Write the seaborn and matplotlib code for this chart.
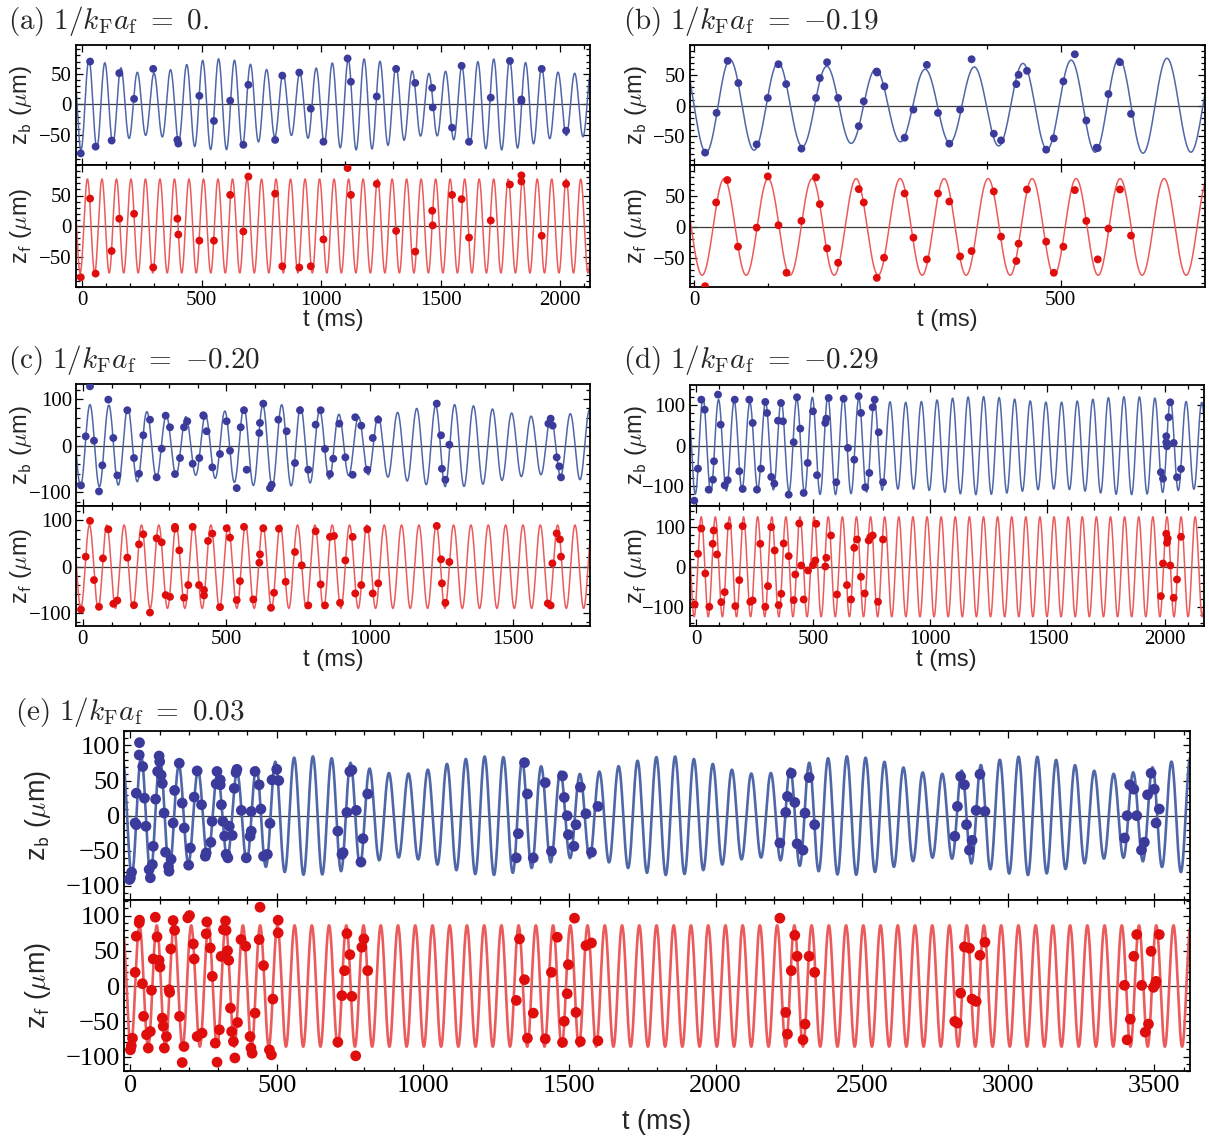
import numpy as np
import pandas as pd
import seaborn as sns
import matplotlib
matplotlib.use("Agg")
import matplotlib.pyplot as plt
from matplotlib.ticker import MultipleLocator, FixedLocator

# ---------------- data (t in ms, z in micrometres) ----------------
TA = [-5, 34, 57, 124, 156, 218, 298, 399, 403, 491, 552, 620, 675, 696, 808, 838, 909, 957, 1010,
      1111, 1125, 1233, 1314, 1394, 1465, 1467, 1548, 1588, 1619, 1710, 1790, 1838, 1838, 1923, 2025]
ZA_B = [-80, 70, -69, -59, 51, 9, 58, -58, -64, 14, -27, 6, -66, 32, -58, 47, 52, -7, -61,
        75, 37, 13, 58, 35, 27, -5, -38, 63, -61, 11, 71, 8, 5, 58, -43]
ZA_F = [-84, 45, -78, -41, 12, 20, -68, 12, -14, -24, -24, 51, -9, 81, 53, -66, -68, -66, -22,
        95, 51, 69, -8, -42, 25, 1, 51, 44, -19, 9, 68, 83, 73, -16, 69]

TB_B = [14.6, 30.3, 45.4, 60, 85, 100.2, 114.8, 125.3, 146.1, 166, 171.2, 181.1, 196.2, 224.4, 231.2,
        249, 249.5, 259.4, 287, 299, 317.3, 332.5, 348, 362.7, 378.4, 408.7, 418.6, 439.5, 442.6, 454,
        480.2, 490.6, 503.7, 519.3, 535, 549, 550.6, 565.2, 580.9, 596]
ZB_B = [-77.6, -12, 73.8, 37.2, -64, 12.6, 68.3, 35.5, -71, 12.6, 45.4, 71.6, 12.6, -33.9, 7.1,
        56.3, 54.6, 31.7, -53, -6.6, 67.2, -12, -62.8, -6.6, 76.5, -46.4, -57.4, 35.5, 50.8, 57.4,
        -72.7, -54, 40, 84.7, -24.6, -69.4, -70, 19.1, 71.6, -13.7]
TB_F = [14.6, 29.7, 44.9, 59.5, 85, 100.2, 114.8, 125.8, 146.1, 166, 171.2, 181.1, 196.2, 224.4, 231.2,
        249, 258.9, 287, 299, 317.3, 332.5, 348, 362.7, 378.4, 408.7, 418.6, 439.5, 442.6, 454, 480.2,
        490.6, 503.7, 519.3, 535, 550.6, 565.2, 580.9, 596]
ZB_F = [-95.7, 39.5, 75.7, -31.9, -1.1, 81.6, 2.7, -74, 9.7, 80, 36.8, -34.6, -57.8, 61, 39.5,
        -82.2, -49.7, 54, -17.3, -52.4, 54, 41, -47.6, -39, 57.3, -15.7, -55, -27, 60.5, -23.8,
        -74, -31.9, 59.5, 9.7, -52.4, -2.7, 60.5, -14]

TC_B = [-6.6, 9.8, 24.8, 38.7, 56.1, 67.7, 88.6, 106, 120, 154.8, 178, 195.5, 210.5, 233.8, 257,
        274.6, 288.5, 303.5, 321, 338.4, 352.3, 363.8, 382.6, 405.6, 419.6, 421, 431.3, 451, 477.7, 501,
        512.6, 536, 549.9, 561.4, 570.8, 614.8, 617, 628.6, 652, 658, 681, 710, 739, 756.5, 785.4,
        811, 828.6, 843.6, 861, 872.5, 893.5, 914.5, 940, 949, 970, 991, 1010, 1029, 1233, 1248,
        1251, 1263, 1277, 1622, 1630, 1637, 1651, 1660, 1666]
ZC_B = [-84.9, 20, 127, 10.7, -97.8, -42, 98.6, 16.5, -63.5, 75.9, -26.4, -60, 22.3, 55.7, -67.7,
        -6.4, 64.3, 39.4, -60.7, -26.4, 39.4, 52.3, -38.6, -26.4, 65.2, 63.5, 30.9, -46.3, -17.8, 52.3,
        -10.7, -90.7, 39.4, 75.9, -51.4, 27.2, 48.7, 90, -90.7, -83.6, 55.7, 30.9, -37, 75.9, -51.4,
        45, 75.9, -7, -60.7, -27.8, 47.2, -24.9, -62.2, 60.9, 42.9, -51.4, 16.5, 55.7, 90, 22.3,
        -49.3, -72.9, 2.1, 47.2, 57.9, 42.9, -24.9, -44.2, -67.7]
TC_F = [-6.6, 9.8, 24.8, 38.7, 56.1, 70, 88.6, 106, 120, 154.8, 178, 195.5, 210.5, 233.8, 257,
        274.6, 288.5, 303.5, 321, 321, 336, 352.3, 367.3, 382.6, 404.6, 422, 422, 436, 451, 477.7,
        501, 512.6, 536, 547.4, 561.4, 594, 614.8, 617, 628.6, 655.5, 666, 683.3, 706.6, 739, 762.5,
        785.4, 811, 828.6, 843.6, 861, 875, 896, 914.5, 940, 949, 970, 991, 1010, 1029, 1233,
        1248, 1251, 1263, 1277, 1620, 1630, 1636, 1651, 1662, 1666]
ZC_F = [-92.4, 21.6, 98.9, -28.8, -86.6, 18, 80.7, -80, -73, 19.5, -83, 48.3, 70, -99, 61.3,
        52.6, -61.3, -65, 86, 82, 35.3, -67, -39.6, 86, -39.6, -50.4, -62, 55.6, 71.4, -87.3,
        83, 62.8, -72, -31, 86, -70.7, 8.7, 26.6, 83, -88.7, -56.3, 82, -32.5, 31.7, 2.9,
        -83.6, 76.5, -38.2, -83.6, 64.3, 66.4, -78, 13.6, 64.3, -57.7, -39.6, 80.7, -57.7, -36, 88,
        15.9, -36, -78, 10.2, -79.4, -83.6, 7.2, 72, 59, 21.6]

TD_B = [-7.5, 8.3, 22.4, 36.8, 53.9, 72.3, 76.6, 93.6, 105.2, 122.2, 135, 165, 184.5, 199, 227.3,
        241.7, 260, 277.2, 295.5, 302.8, 321, 334, 349.7, 362.5, 371, 395.4, 416.7, 430.8, 444.9, 459.4,
        476.5, 499, 516.2, 551.6, 556, 566, 598.5, 630, 648.5, 675.4, 694, 704, 722.4, 739.4, 754,
        762.4, 779.5, 798, 1984, 1993, 2007, 2007, 2010, 2017, 2024, 2038.6, 2052.7, 2069.8]
ZD_B = [-135.8, -56.8, 113.6, 88.9, -108.6, -84, -38.5, 126, 51.9, -97.8, -85.4, 113.6, -63.2, -107, 113.6,
        56, -108.6, -56.8, 107.9, 80.7, -77.3, -93.8, 61.7, 105.4, 60.2, -121, 8.4, 119.5, 42, -116.8,
        -42.7, 84.9, -73, 56, 66.7, 117.8, -90.4, 116, -5.7, -34.6, 122, 80.7, -102.7, -67.4, 94.8,
        113.6, 33, -90.4, -65.7, -81.5, 8.4, 23.2, -1.5, 70, 107, 6.7, -78, -57.5]
TD_F = [-5.8, 8.3, 22.4, 39.4, 56.5, 71, 75.3, 89.4, 107.7, 122.2, 136.3, 167.5, 184.5, 199, 231.5,
        241.7, 274.2, 295.5, 307, 321, 335.6, 352.7, 363.8, 374, 395.4, 416.7, 423.6, 440.6, 449, 459.4,
        477.8, 499, 509, 513, 551.6, 556, 576, 601.5, 644, 661.3, 675.4, 687, 704, 719.7, 736.8,
        743.7, 754, 776.5, 798, 1984, 1993, 2007, 2010, 2013, 2024, 2038.6, 2052.7, 2069.8]
ZD_F = [-94, 32.5, 95.8, -16.7, -100, 57.5, 90.8, 30.8, -88.3, -63.3, 101.7, -98.3, -33.3, 101.7, -87.5,
        -84.2, 57.5, -100, -48.3, 99.2, 40.8, -95.8, -67.5, 58.3, 26.7, -83.3, -19.2, 108.3, 3.3, -81.7,
        -9.2, 4.2, 15.8, 107.5, 0.8, 22.5, 78.3, -69.2, -45.8, -81.7, 47.5, 68.3, -25, -66.7, 65.8,
        74.2, 78.3, -87.5, 68.3, -73.3, 8.3, 82.5, 60, 70.8, 3.3, -77.5, -31.7, 75]

TE_B = [31, 30, 42, 20, 16, 20, 0, 4, -3, 48, 53, 64, 68, 75, 78, 86, 93, 98, 100, 105,
        109, 115, 120, 130, 132, 139, 146, 151, 167, 177, 184, 199, 205, 218, 228, 243, 256, 259, 275, 279,
        293, 296, 307, 307, 311, 316, 322, 327, 333, 338, 348, 355, 361, 364, 379, 396, 413, 409, 413, 426,
        440, 446, 455, 468, 477, 484, 500, 507, 709, 723, 727, 740, 750, 757, 772, 788, 795, 811, 1319, 1326,
        1347, 1357, 1377, 1418, 1439, 1477, 1483, 1493, 1497, 1516, 1523, 1538, 1557, 1576, 1598, 2220, 2240,
        2246, 2259, 2271, 2279, 2299, 2306, 2320, 2339, 2818, 2827, 2838, 2851, 2858, 2868, 2877, 2891, 2904,
        2921, 3398, 3407, 3416, 3430, 3440, 3456, 3466, 3477, 3489, 3500, 3506, 3517]
ZE_B = [104, 86.5, 70, 32, -10.4, -12.8, -88.4, -80.4, -90.8, 25, -15, -76.6, -88.4, -69.5, -43.5, 23.6,
        63, 85, 77, 58, 46, 3.8, -52, -72, -79, -62, -10.4, 36, 74.7, 18, -17.5, -70.4, -46, 26.5, 63.8,
        15.6, -57.7, -53, -37.8, -8, 45.4, 63, 51, 44, 15.6, -8, -29, -55, -60, -15, -28, 39, 61.5, 66,
        7.6, -60, 6, -29.3, -22, 63, 44, 9.5, -57.7, -55, -11, 51, 66, 50, -22, -55, -52.5, 4.7, 63, 65,
        7.6, -66, -32.6, 31, -60, -25.5, 75.6, 31, -60, 47, -50.6, 56.7, 26, 0, -27, -43.5, -12.8, 40.7,
        2.8, -52, 13.2, -38.8, 4.7, 27.4, 60.5, 18.9, -40, -49, 3.8, 54.4, -12.8, -29.3, 13.2, 55.8, 44,
        -12.8, -49, -35, 7.6, 59, 6, -31.7, 0, 44, 37.8, 0, -49, -37.8, 29.8, 60.5, 37.8, -10.4, 9.5]
TE_F = [443, 0, 3, 7, 16, 20, 30, 31, 41, 45, 55, 61, 68, 72, 78, 85, 91, 98, 101, 109,
        112, 116, 123, 132, 134, 138, 146, 151, 168, 177, 183, 196, 202, 215, 218, 228, 245, 261, 259, 273,
        280, 290, 296, 304, 310, 318, 325, 327, 332, 336, 342, 346, 352, 357, 366, 378, 394, 409, 412, 416,
        426, 440, 455, 475, 482, 487, 505, 505, 709, 723, 732, 740, 750, 757, 770, 791, 798, 811, 1319, 1330,
        1347, 1377, 1357, 1418, 1439, 1459, 1477, 1483, 1493, 1497, 1518, 1523, 1538, 1557, 1576, 1598, 2220,
        2240, 2246, 2259, 2271, 2279, 2299, 2306, 2320, 2339, 2818, 2827, 2838, 2851, 2868, 2877, 2891, 2904,
        2921, 3407, 3418, 3430, 3440, 3457, 3469, 3480, 3489, 3497, 3504, 3506, 3517, 3398]
ZE_F = [111.8, -90.5, -84.8, -74, 19.4, 70.6, 89.6, 93.4, 3.3, -43, -69, -88, -64.5, -6, 38.4, 97.6,
        69.7, 36.5, 27, -45.5, -57, -88, -71.6, -5.2, -9, 52.6, 92.9, 79, -43, -108.5, -85.8, 96.7, 100,
        59.7, 38.4, -71.6, -66.8, 91, 74, 54, 13.7, -81, -108, -62, 42, 80, 92.4, 79, 50, 36.5, -31.3,
        -64.5, -78.7, -102, -51.7, 65.9, 56.4, -71.6, -88, -95.3, -38.4, 65.9, 29, -90.5, -97.6, -18.5,
        93.4, 75.4, -79.6, -13.7, 21.8, 74.4, 44.5, -14.7, -99, 55, 66.8, 21.8, -20.4, 66.8, 9, -38.4,
        -74, -74.9, 19.4, 69.2, -80, -50, -10.9, 30.3, 96.2, -37.4, -78.7, 57.3, 61.1, -77.7, 96.2, -37.4,
        -68.2, 21.8, 72, 42.2, -76.3, -54, 42.2, 19.4, -50.2, -52.6, -10, 55.5, 53.6, -18.5, -21.8, 43.6,
        62.1, -76.3, -47, 42.2, 73, 1, -65.4, -54, 49.3, -1.9, 2.8, 6.6, 73, 1]

# fitted oscillation parameters read for panels a..e (ms, micrometres)
FIT_PERIOD_F = [60.69, 60.06, 60.42, 60.24, 58.91]
FIT_PEAK_F = [22.8, 40.6, 22.9, 22.0, 31.0]
FIT_AMP_F = [77, 78, 90, 125, 86]
FIT_PERIOD_B = [67.68, 66.20, 66.89, 66.51, 65.18]
FIT_PEAK_B = [29.9, 49.7, 24.3, 30.2, 37.2]
FIT_AMP_B = [62.5, 69.1, 75, 114, 72]
FIT_AMP_MIX = [11.9, 9.4, 13, 7, 12.5]
FIT_PEAK_MIX = [25.3, 41.8, 25.9, 20.9, 34.1]

TITLES = [r"$\mathrm{(a)}\ 1/k_{\rm F}a_{\rm f}\ =\ 0.$",
          r"$\mathrm{(b)}\ 1/k_{\rm F}a_{\rm f}\ =\ {-}0.19$",
          r"$\mathrm{(c)}\ 1/k_{\rm F}a_{\rm f}\ =\ {-}0.20$",
          r"$\mathrm{(d)}\ 1/k_{\rm F}a_{\rm f}\ =\ {-}0.29$",
          r"$\mathrm{(e)}\ 1/k_{\rm F}a_{\rm f}\ =\ 0.03$"]
YLABEL_B = r"z$_\mathsf{b}$ ($\mu$m)"
YLABEL_F = r"z$_\mathsf{f}$ ($\mu$m)"
XLABEL = "t (ms)"

DATA = [(TA, ZA_B, TA, ZA_F), (TB_B, ZB_B, TB_F, ZB_F), (TC_B, ZC_B, TC_F, ZC_F),
        (TD_B, ZD_B, TD_F, ZD_F), (TE_B, ZE_B, TE_F, ZE_F)]

# ---------------- style / layout ----------------
sns.set_theme(style="white")
plt.rcParams["font.family"] = ["Liberation Serif", "DejaVu Serif"]
plt.rcParams["mathtext.fontset"] = "cm"
plt.rcParams["axes.unicode_minus"] = True

BLUE_LINE, BLUE_DOT = "#4f67a8", "#3b3b9c"
RED_LINE, RED_DOT = "#ec5b5b", "#e00d0d"
W, H = 1209, 1140

LAYOUT = [
    dict(top=(76, 45, 590, 165), bot=(76, 165, 590, 287), xlim=(-25, 2125), yt=(-99, 97), yb=(-100, 100),
         yticks=[-50, 0, 50], ymin=10, title=(8, 21), ylx=21, tly=320, big=False),
    dict(top=(690, 45, 1205, 165), bot=(690, 165, 1205, 287), xlim=(-6, 697), yt=(-98, 100), yb=(-97, 100),
         yticks=[-50, 0, 50], ymin=10, title=(623, 21), ylx=636, tly=320, big=False),
    dict(top=(76, 384, 590, 506), bot=(76, 506, 590, 626), xlim=(-24, 1767), yt=(-129, 132), yb=(-128, 131),
         yticks=[-100, 0, 100], ymin=20, title=(8, 360), ylx=21, tly=660, big=False),
    dict(top=(689.5, 384.5, 1204, 506), bot=(689.5, 506, 1204, 626), xlim=(-28, 2168), yt=(-149, 151),
         yb=(-148, 152), yticks=[-100, 0, 100], ymin=20, title=(623, 360), ylx=636, tly=660, big=False),
    dict(top=(124, 731, 1190, 900), bot=(124, 900, 1190, 1071), xlim=(-22, 3622), yt=(-120, 120.6),
         yb=(-120.5, 122), yticks=[-100, -50, 0, 50, 100], ymin=10, title=(15, 712), ylx=38, tly=1122,
         big=True),
]


def px_rect(l, t, r, b):
    return [l / W, 1 - b / H, (r - l) / W, (b - t) / H]


fig = plt.figure(figsize=(W / 100, H / 100), dpi=100)
for i, (lay, (tb, zb, tf, zf), title) in enumerate(zip(LAYOUT, DATA, TITLES)):
    big = lay["big"]
    lw_line = 1.9 if big else 1.1
    msize = 60 if big else 32
    tick_fs = 19 if big else 15
    lab_fs = 19.5 if big else 17
    tt = np.linspace(lay["xlim"][0], lay["xlim"][1], 6000)
    TF, TB = FIT_PERIOD_F[i], FIT_PERIOD_B[i]
    curve_f = FIT_AMP_F[i] * np.cos(2 * np.pi * (tt - FIT_PEAK_F[i]) / TF)
    curve_b = (FIT_AMP_B[i] * np.cos(2 * np.pi * (tt - FIT_PEAK_B[i]) / TB)
               + FIT_AMP_MIX[i] * np.cos(2 * np.pi * (tt - FIT_PEAK_MIX[i]) / TF))

    for which, (t, z, curve, lc, dc, ylim, ylab) in enumerate([
            (tb, zb, curve_b, BLUE_LINE, BLUE_DOT, lay["yt"], YLABEL_B),
            (tf, zf, curve_f, RED_LINE, RED_DOT, lay["yb"], YLABEL_F)]):
        box = lay["top"] if which == 0 else lay["bot"]
        ax = fig.add_axes(px_rect(*box))
        ax.axhline(0, color="#3a3a3a", lw=0.9, zorder=1)
        sns.lineplot(x=tt, y=curve, ax=ax, color=lc, lw=lw_line, estimator=None, sort=False,
                     legend=False, zorder=2)
        sns.scatterplot(x=t, y=z, ax=ax, color=dc, s=msize, edgecolor="none", legend=False, zorder=3)
        ax.set_xlim(*lay["xlim"]); ax.set_ylim(*ylim)
        ax.set_xlabel(""); ax.set_ylabel("")
        ax.xaxis.set_major_locator(MultipleLocator(500))
        ax.xaxis.set_minor_locator(MultipleLocator(100))
        ax.yaxis.set_major_locator(FixedLocator(lay["yticks"]))
        ax.yaxis.set_minor_locator(MultipleLocator(lay["ymin"]))
        ax.tick_params(which="both", direction="in", top=True, right=True, bottom=True, left=True,
                       colors="black", width=0.9, labelsize=tick_fs)
        ax.tick_params(which="major", length=5, pad=3)
        ax.tick_params(which="minor", length=3)
        ax.tick_params(axis="x", labelbottom=(which == 1))
        for sp in ax.spines.values():
            sp.set_color("black"); sp.set_linewidth(1.3)
        ax.set_facecolor("white")
        fig.text(lay["ylx"] / W, 1 - (box[1] + box[3]) / 2 / H, ylab, rotation=90, ha="center",
                 va="center", fontsize=lab_fs, family=["Liberation Sans", "DejaVu Sans"])
    cx = (lay["top"][0] + lay["top"][2]) / 2
    fig.text(cx / W, 1 - lay["tly"] / H, XLABEL, ha="center", va="center", fontsize=lab_fs,
             family=["Liberation Sans", "DejaVu Sans"])
    fig.text(lay["title"][0] / W, 1 - lay["title"][1] / H, title, ha="left", va="center", fontsize=21)

fig.savefig("out.png", dpi=100)
